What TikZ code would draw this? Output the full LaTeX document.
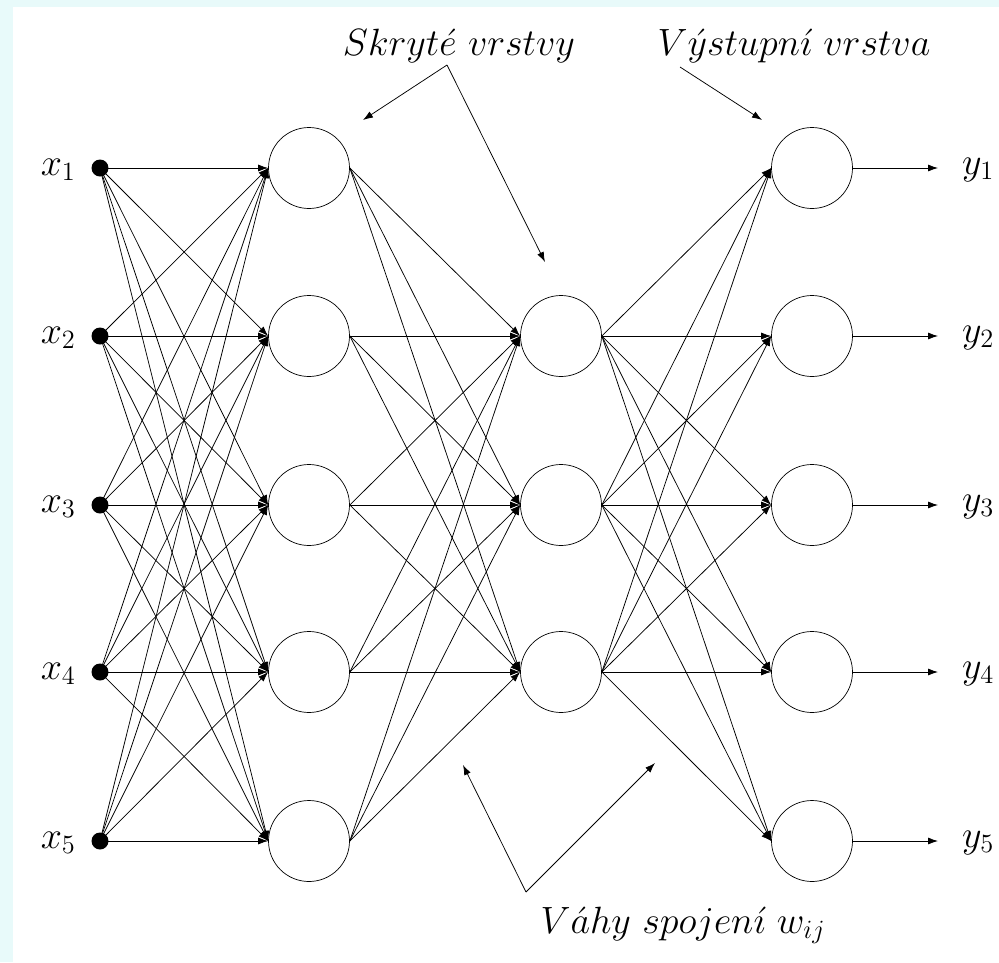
\documentclass[tikz,border=0pt]{standalone}
\usetikzlibrary{arrows.meta}
\definecolor{bgcyan}{RGB}{232,250,250}
\newcommand{\nnlabel}[1]{\scalebox{1.832}{\fontsize{20.74}{24}\selectfont$#1$}}
\begin{document}
\begin{tikzpicture}[x=1pt,y=-1pt,
  neuron/.style={circle,draw,line width=0.7pt,minimum size=81pt,inner sep=0pt},
  indot/.style={circle,fill,minimum size=17pt,inner sep=0pt},
  conn/.style={line width=0.75pt,-{Latex[length=10pt,width=7pt]}},
  lbl/.style={inner sep=0pt}]
\fill[bgcyan] (0,0) rectangle (999,962);
\fill[white] (13,7) rectangle (999,962);
\useasboundingbox (0,0) rectangle (999,962);
% nodes
\foreach \i/\y in {1/168,2/336,3/505,4/672,5/841}{
  \node[indot] (x\i) at (100,\y) {};
  \node[lbl,anchor=base east] (lx\i) at (76,\y+7) {\nnlabel{x_{\i}}};
  \node[neuron] (h\i) at (309,\y) {};
  \node[neuron] (o\i) at (812,\y) {};
  \node[lbl,anchor=base west] (ly\i) at (962,\y+6) {\nnlabel{y_{\i}}};
  \coordinate (t\i) at (938,\y);
}
\foreach \j/\y in {1/336,2/505,3/672}{
  \node[neuron] (g\j) at (561,\y) {};
}
% connections
\foreach \a in {1,...,5}{
  \foreach \b in {1,...,5}{
    \draw[conn] (x\a.center) -- (h\b.west);
  }
  \foreach \b in {1,2,3}{
    \draw[conn] (h\a.east) -- (g\b.west);
  }
}
\foreach \a in {1,2,3}{
  \foreach \b in {1,...,5}{
    \draw[conn] (g\a.east) -- (o\b.west);
  }
}
\foreach \i in {1,...,5}{
  \draw[conn] (o\i.east) -- (t\i);
}
% annotations
\node[lbl,anchor=base] (skr) at (459,55) {\nnlabel{Skryt\acute{e}\ vrstvy}};
\node[lbl,anchor=base] (vys) at (794,55) {\nnlabel{V\acute{y}stupn\acute{\imath}\ vrstva}};
\node[lbl,anchor=base] (vah) at (683,933) {\nnlabel{V\acute{a}hy\ spojen\acute{\imath}\ w_{ij}}};
\coordinate (s0) at (447,65);
\coordinate (s1) at (363,120);
\coordinate (s2) at (545,262);
\coordinate (v0) at (680,67);
\coordinate (v1) at (762,120);
\coordinate (w0) at (526,892);
\coordinate (w1) at (463,765);
\coordinate (w2) at (655,763);
\draw[conn] (s0) -- (s1);
\draw[conn] (s0) -- (s2);
\draw[conn] (v0) -- (v1);
\draw[conn] (w0) -- (w1);
\draw[conn] (w0) -- (w2);
\end{tikzpicture}
\end{document}
